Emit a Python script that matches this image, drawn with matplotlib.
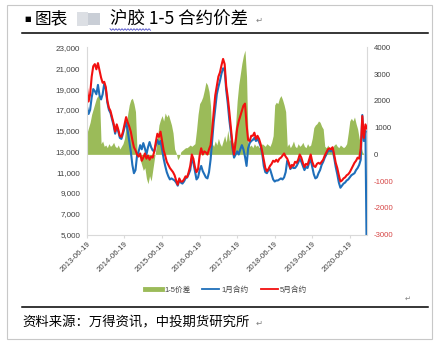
import numpy as np
import pandas as pd
import matplotlib
matplotlib.use('Agg')
import matplotlib.pyplot as plt
from matplotlib.lines import Line2D
from matplotlib.patches import Rectangle
from matplotlib.ticker import FuncFormatter

plt.rcParams['font.family'] = ['Liberation Sans', 'Noto Sans CJK SC', 'DejaVu Sans']

# half-monthly samples, 2013-06-19 .. 2020-12
dates = pd.date_range('2013-06-19', '2020-12-05', periods=180)

# 5月合约 (left axis)
may = [19100, 17800, 18500, 20200, 21200, 21400, 20900, 21500, 20800, 20100, 19600, 19700,
       19200, 17900, 17200, 16900, 16300, 15700, 14900, 15600, 15100, 14500, 14400, 14900,
       15600, 16300, 15800, 15400, 14900, 14100, 13400, 13100, 12700, 12500, 12800, 12100,
       12400, 12800, 12300, 12600, 12200, 12500, 12400, 13000, 13900, 14700, 14400, 14900,
       14000, 13100, 12600, 12000, 11700, 11400, 11200, 11000, 10700, 10200, 9800, 10400,
       10100, 10100, 10300, 10600, 10500, 11000, 11600, 12700, 12300, 11500, 11000, 11300,
       12600, 13300, 12700, 13000, 12900, 12700, 13200, 13600, 15000, 16800, 18400, 19300,
       20200, 20600, 21300, 21900, 21400, 19300, 18200, 16800, 15200, 13700, 12700, 13900,
       15200, 15900, 16400, 16900, 17400, 17600, 15600, 14100, 14000, 14500, 14500, 14800,
       14200, 14500, 14200, 13700, 13000, 12200, 11400, 11100, 11300, 11600, 11800, 12100,
       12000, 12200, 12000, 12300, 12400, 12600, 12800, 12500, 12300, 11900, 11400, 11700,
       11600, 12000, 11900, 12200, 12700, 12400, 11900, 11500, 11800, 11700, 12200, 12700,
       12000, 11600, 11500, 11800, 11900, 11800, 12000, 12200, 12600, 12900, 13200, 13300,
       13200, 13400, 12700, 11900, 11400, 10700, 10100, 10200, 10400, 10500, 10700, 10800,
       11000, 11300, 11600, 11900, 12100, 12400, 12300, 13300, 16400, 14300, 15600, 15200]

# 1月合约 (left axis)
jan = [17300, 16600, 17000, 18200, 19000, 18800, 18500, 19400, 18400, 18000, 18500, 19500,
       19000, 17700, 17000, 16700, 16100, 15500, 14700, 15400, 14900, 14300, 14200, 14700,
       15300, 15800, 15000, 14000, 13000, 11700, 10900, 11200, 12600, 13000, 13600, 13200,
       13800, 13300, 12700, 13400, 13900, 13400, 13100, 13000, 13600, 14100, 13700, 14000,
       13200, 12300, 11600, 11000, 10600, 10300, 10400, 10300, 10200, 10000, 9700, 10200,
       10000, 9900, 10100, 10400, 10500, 10800, 11200, 12300, 11900, 11100, 10300, 10500,
       11200, 11600, 11100, 10800, 10500, 10400, 11000, 12200, 14000, 15800, 17200, 18500,
       19200, 19800, 20500, 21000, 20800, 18900, 17600, 16000, 14800, 13300, 12400, 12700,
       13000, 12700, 13200, 13600, 13200, 12500, 11600, 13300, 13800, 14000, 14100, 14300,
       14000, 14200, 13900, 13500, 12800, 11600, 11000, 10900, 11200, 11300, 10800, 10300,
       10100, 10200, 10200, 10300, 10400, 10300, 10500, 11000, 12100, 11800, 11300, 11500,
       11400, 11400, 11600, 11900, 12300, 12000, 11600, 11200, 11500, 11400, 11900, 12200,
       11500, 10800, 10400, 10500, 10900, 11200, 11700, 12000, 12400, 12700, 13000, 13100,
       13000, 13200, 12400, 11500, 10800, 10000, 9500, 9700, 9900, 10000, 10200, 10300,
       10500, 10700, 10800, 10900, 11200, 11400, 11700, 12200, 16500, 14000, 15000, 0]

# 1-5价差 (right axis)
spread = [800, 1000, 1200, 1500, 1700, 1900, 2100, 2200, 2150, 400, 500, 300,
          350, 250, 400, 300, 350, 450, 300, 250, 350, 200, 300, 400,
          600, 1100, 1500, 1850, 2050, 2100, 1900, 1600, 100, 150, -200, -400,
          -600, -500, -900, -1100, -800, -1000, -600, -200, 200, 600, 1100, 1300,
          1450, 1250, 1550, 1400, 1500, 1300, 1100, 800, 200, 50, -200, -100,
          100, 150, 200, 250, 250, 300, 350, 300, 350, 400, 900, 1500,
          1900, 2000, 2150, 2400, 2700, 2600, 2350, 1800, 400, 300, 500, 350,
          600, 400, 300, 500, 700, 450, 900, 500, 600, 400, 500, 1100,
          2000, 2600, 3000, 3400, 3700, 3900, 2900, 400, 300, 350, 250, 400,
          300, 350, 250, 300, 400, 350, 300, 400, 350, 300, 450, 700,
          1850, 1950, 1900, 2100, 2200, 2050, 1850, 1600, 300, 400, 250, 350,
          500, 300, 250, 400, 300, 350, 450, 300, 250, 400, 300, 350,
          600, 1000, 1100, 1150, 1250, 1200, 1050, 950, 300, 250, 350, 200,
          300, 250, 350, 400, 300, 250, 350, 300, 250, 300, 400, 800,
          1250, 1350, 1250, 1400, 1150, 950, 600, 350, 100, 0, 0, 0]

year_ticks = pd.to_datetime(['%d-06-19' % y for y in range(2013, 2021)])
left_ticks = list(range(5000, 23001, 2000))
right_ticks = list(range(-3000, 4001, 1000))
legend_labels = ['1-5价差', '1月合约', '5月合约']

GREEN = '#9BBB59'
BLUE = '#1F6FBA'
RED = '#F20F0F'
AXIS = '#D9D9D9'
TXT = '#404040'

W, H = 438, 344
fig = plt.figure(figsize=(W / 100, H / 100), dpi=100)


def fx(px):
    return px / W


def fy(py):
    return 1 - py / H


ax = fig.add_axes([fx(87), fy(234.5), fx(367) - fx(87), fy(47.5) - fy(234.5)])
ax2 = ax.twinx()
ax.set_zorder(ax2.get_zorder() + 1)
ax.patch.set_visible(False)

ax2.fill_between(dates, 0, spread, color=GREEN, linewidth=0)
ax.plot(dates, jan, color=BLUE, lw=1.5, solid_joinstyle='round')
ax.plot(dates, may, color=RED, lw=1.5, solid_joinstyle='round')

ax.set_xlim(dates[0], dates[-1])
ax.set_ylim(5000, 23000)
ax2.set_ylim(-3000, 4000)

ax.set_yticks(left_ticks)
ax.yaxis.set_major_formatter(FuncFormatter(lambda v, p: '{:,.0f}'.format(v)))
ax2.set_yticks(right_ticks)
ax2.set_yticklabels([str(v) for v in right_ticks])
for v, lbl in zip(right_ticks, ax2.get_yticklabels()):
    lbl.set_color('#D64545' if v < 0 else TXT)

ax.set_xticks(year_ticks)
ax.set_xticklabels([d.strftime('%Y-%m-%d') for d in year_ticks])
for lbl in ax.get_xticklabels():
    lbl.set_rotation(45)
    lbl.set_ha('right')
    lbl.set_va('top')
    lbl.set_rotation_mode('anchor')

for s in ['top', 'right']:
    ax.spines[s].set_visible(False)
for s in ['top', 'left', 'bottom']:
    ax2.spines[s].set_visible(False)
for s in ['left', 'bottom']:
    ax.spines[s].set_color(AXIS)
ax2.spines['right'].set_color(AXIS)

ax.tick_params(axis='y', length=0, pad=5, labelsize=5.8, labelcolor=TXT)
ax.tick_params(axis='x', length=2.5, color=AXIS, pad=2, labelsize=5.6, labelcolor=TXT)
ax2.tick_params(axis='y', length=0, pad=5, labelsize=5.6)

handles = [Line2D([], [], color=GREEN, lw=3.5),
           Line2D([], [], color=BLUE, lw=1.3),
           Line2D([], [], color=RED, lw=1.3)]
fig.legend(handles, legend_labels, loc='center', bbox_to_anchor=(fx(226), fy(290)),
           ncol=3, frameon=False, fontsize=5.5, handlelength=2.2,
           handletextpad=0.3, columnspacing=1.6, labelcolor=TXT)

# page frame and rules
fig.add_artist(Rectangle((fx(7), fy(339)), fx(432) - fx(7), fy(5) - fy(339),
                         transform=fig.transFigure, fill=False, ec='#C8C8C8', lw=0.8))
fig.add_artist(Line2D([fx(22), fx(428)], [fy(33), fy(33)], color='black', lw=1.1))
fig.add_artist(Line2D([fx(22), fx(428)], [fy(307), fy(307)], color='black', lw=1.1))

# heading
fig.text(fx(24), fy(19), '■', fontsize=5, va='center', ha='left', color='black',
         family=['DejaVu Sans'])
fig.text(fx(35), fy(19), '图表', fontsize=12, va='center', ha='left', style='italic',
         weight='light', family=['Noto Sans CJK SC'])
fig.add_artist(Rectangle((fx(77), fy(26)), fx(88) - fx(77), fy(12) - fy(26),
                         transform=fig.transFigure, color='#DCDFE4', lw=0))
fig.add_artist(Rectangle((fx(88), fy(25)), fx(100) - fx(88), fy(13) - fy(25),
                         transform=fig.transFigure, color='#C9CED6', lw=0))
fig.text(fx(110), fy(19), '沪胶 1-5 合约价差', fontsize=12.6, va='center', ha='left',
         style='italic', weight='light', family=['Noto Sans CJK SC', 'DejaVu Sans'])
fig.text(fx(256), fy(20), '↵', fontsize=6, va='center', ha='left', color='#808080',
         family=['DejaVu Sans'])
wx = np.arange(110, 151, 1.5)
wy = 29.5 + np.where(np.arange(len(wx)) % 2 == 0, -0.8, 0.8)
fig.add_artist(Line2D(fx(wx), fy(wy), color='#4B4BC8', lw=0.6))

fig.text(fx(405), fy(299), '↵', fontsize=5, va='center', ha='left', color='#808080',
         family=['DejaVu Sans'])

# source line
fig.text(fx(22), fy(322), '资料来源：万得资讯，中投期货研究所', fontsize=9.6, va='center',
         ha='left', style='italic', weight='light', family=['Noto Sans CJK SC'])
fig.text(fx(256), fy(323), '↵', fontsize=6, va='center', ha='left', color='#808080',
         family=['DejaVu Sans'])

fig.savefig('out.png', dpi=100)
